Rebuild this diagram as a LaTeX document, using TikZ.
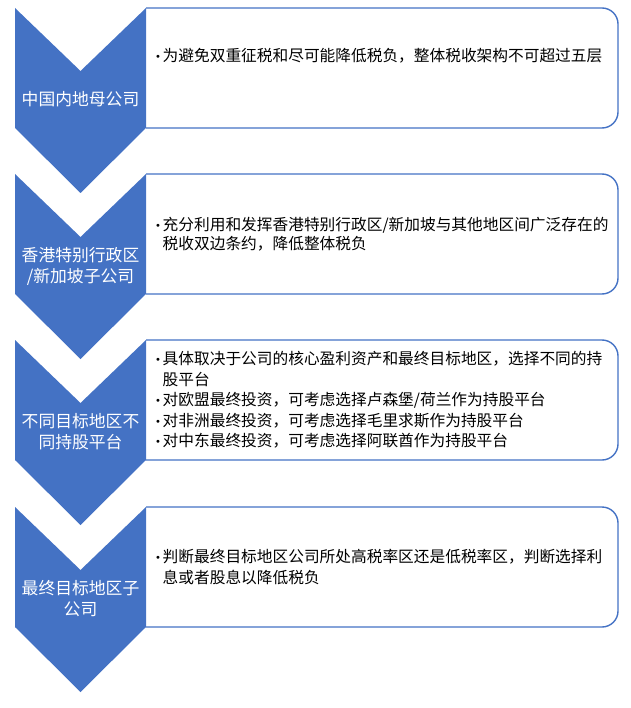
\documentclass[tikz,border=0pt]{standalone}
\usepackage{fontspec}
\newfontfamily\cjk{Noto Sans CJK SC}
\newfontfamily\dotfont{DejaVu Sans}
\definecolor{layerblue}{HTML}{4472C4}
\newcommand{\dotmark}{\makebox[7.5pt][l]{\dotfont\fontsize{10}{10}\selectfont\raisebox{1pt}{•}}}
\newcommand{\dotgap}{\hspace*{7.5pt}}

\begin{document}
\begin{tikzpicture}[x=1pt,y=-1pt,
  chev/.style={fill=layerblue},
  card/.style={draw=layerblue,line width=1.4pt,rounded corners=16pt},
  tag/.style={text=white,align=center,inner sep=0pt,
    font=\cjk\fontsize{16.8}{21}\selectfont},
  note/.style={anchor=west,align=left,inner sep=0pt,
    font=\cjk\fontsize{15.7}{20.5}\selectfont}]
\useasboundingbox (0,0) rectangle (630,708);
% Layer 1
\fill[chev] (15,8) -- (80.5,71) -- (146,8) -- (146,128) -- (80.5,193) -- (15,128) -- cycle;
\draw[card] (146,8) -- (618,8) -- (618,128) -- (146,128);
\node[tag] (parent) at (80.5,99.5) {中国内地母公司};
\node[note] (parentnote) at (155,56) {\dotmark 为避免双重征税和尽可能降低税负，整体税收架构不可超过五层};
% Layer 2
\fill[chev] (15,174) -- (80.5,237) -- (146,174) -- (146,294) -- (80.5,359) -- (15,294) -- cycle;
\draw[card] (146,174) -- (618,174) -- (618,294) -- (146,294);
\node[tag] (hub) at (80.5,266) {香港特别行政区\\/新加坡子公司};
\node[note] (hubnote) at (155,234) {\dotmark 充分利用和发挥香港特别行政区/新加坡与其他地区间广泛存在的\\[-2pt]
  \dotgap 税收双边条约，降低整体税负};
% Layer 3
\fill[chev] (15,340) -- (80.5,403) -- (146,340) -- (146,460) -- (80.5,525) -- (15,460) -- cycle;
\draw[card] (146,340) -- (618,340) -- (618,460) -- (146,460);
\node[tag] (platform) at (80.5,431.5) {不同目标地区不\\同持股平台};
\node[note] (platformnote) at (155,400) {\dotmark 具体取决于公司的核心盈利资产和最终目标地区，选择不同的持\\
  \dotgap 股平台\\
  \dotmark 对欧盟最终投资，可考虑选择卢森堡/荷兰作为持股平台\\
  \dotmark 对非洲最终投资，可考虑选择毛里求斯作为持股平台\\
  \dotmark 对中东最终投资，可考虑选择阿联酋作为持股平台};
% Layer 4
\fill[chev] (15,507) -- (80.5,570) -- (146,507) -- (146,627) -- (80.5,692) -- (15,627) -- cycle;
\draw[card] (146,507) -- (618,507) -- (618,627) -- (146,627);
\node[tag] (target) at (80.5,598.5) {最终目标地区子\\公司};
\node[note] (targetnote) at (155,567) {\dotmark 判断最终目标地区公司所处高税率区还是低税率区，判断选择利\\
  \dotgap 息或者股息以降低税负};
\end{tikzpicture}
\end{document}
